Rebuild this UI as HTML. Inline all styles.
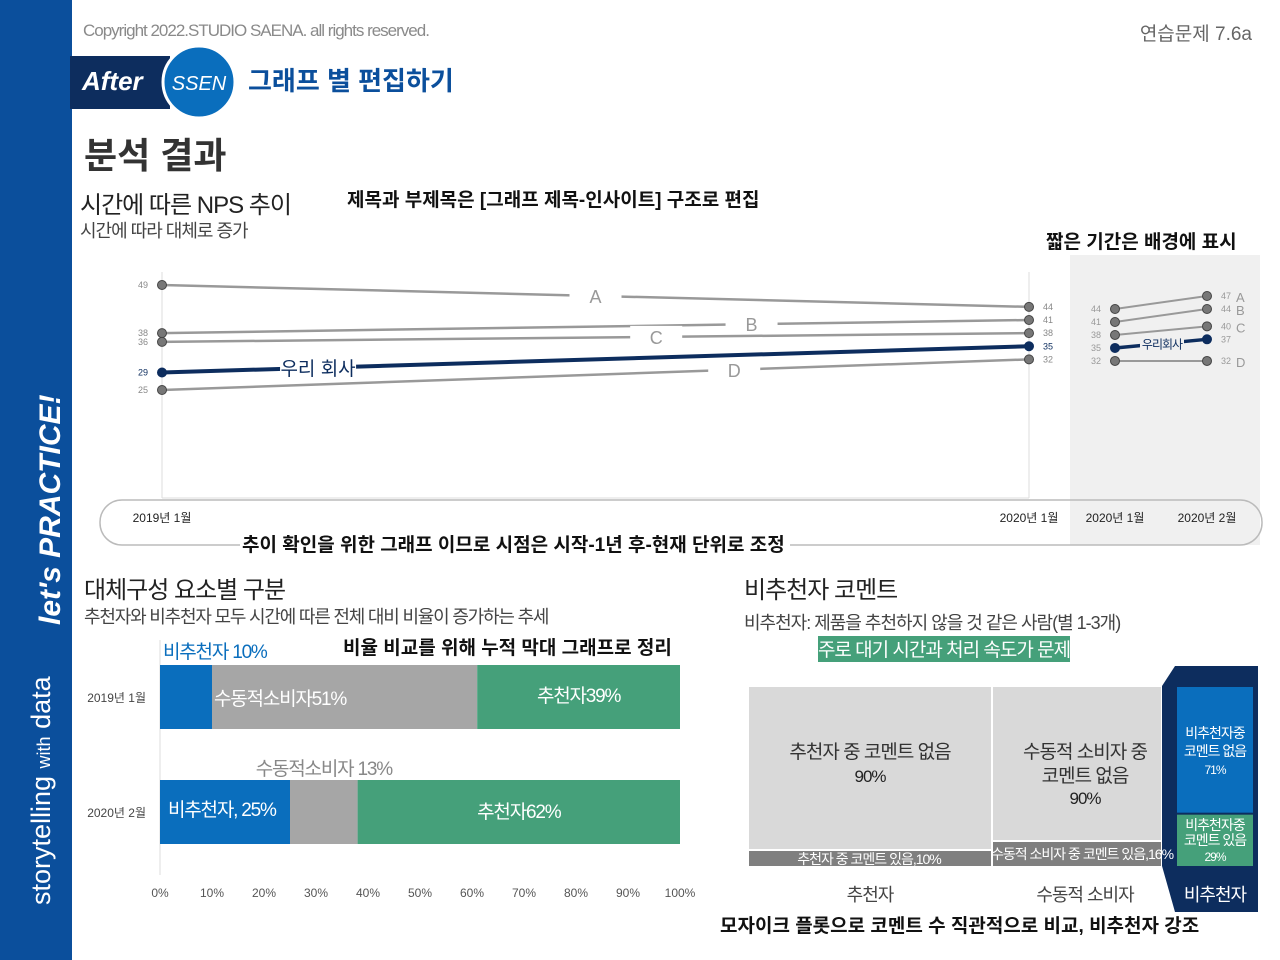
<!DOCTYPE html>
<html><head><meta charset="utf-8"><style>
html,body{margin:0;padding:0;background:#fff}
svg{display:block;font-family:"Liberation Sans","Noto Sans CJK KR",sans-serif}
</style></head><body>
<svg id="s" width="1280" height="960" viewBox="0 0 1280 960" xmlns="http://www.w3.org/2000/svg">
<rect width="1280" height="960" fill="#fff"/>
<rect x="0" y="0" width="72" height="960" fill="#0b4f9c"/>
<text transform="translate(50,905) rotate(-90)" fill="#fff" font-size="27">storytelling <tspan font-size="18">with</tspan> data</text>
<text transform="translate(60,625) rotate(-90)" fill="#fff" font-size="30" font-style="italic" font-weight="bold">let's PRACTICE!</text>
<text x="83" y="36" font-size="17" fill="#8a8a8a" letter-spacing="-1">Copyright 2022.STUDIO SAENA. all rights reserved.</text>
<text x="1252" y="40" font-size="19" fill="#666" text-anchor="end">연습문제 7.6a</text>
<rect x="70" y="56" width="100" height="53" fill="#0d2d5e"/>
<text x="82" y="90" fill="#fff" font-size="26" font-style="italic" font-weight="bold">After</text>
<circle cx="199" cy="82" r="36" fill="#0a6ebd" stroke="#fff" stroke-width="3"/>
<text x="199" y="90" fill="#fff" font-size="20" text-anchor="middle" font-style="italic">SSEN</text>
<text x="248" y="90" fill="#0b4f9c" font-size="26" font-weight="bold">그래프 별 편집하기</text>
<text x="84" y="168" font-size="36" font-weight="bold" fill="#333">분석 결과</text>
<text x="80" y="213" font-size="24" fill="#222" letter-spacing="-1">시간에 따른 NPS 추이</text>
<text x="80" y="237" font-size="18" fill="#444" letter-spacing="-1">시간에 따라 대체로 증가</text>
<text x="347" y="206" font-size="19" font-weight="bold" fill="#111">제목과 부제목은 [그래프 제목-인사이트] 구조로 편집</text>
<text x="1046" y="248" font-size="19" font-weight="bold" fill="#111">짧은 기간은 배경에 표시</text>
<rect x="1070" y="255" width="190" height="290" fill="#f0f0f0"/>
<rect x="100" y="500" width="1162" height="45" rx="22" fill="none" stroke="#bbb" stroke-width="1.5"/>
<line x1="162" y1="272" x2="162" y2="498" stroke="#ddd"/>
<line x1="1029" y1="272" x2="1029" y2="498" stroke="#ddd"/>
<line x1="162" y1="498" x2="1029" y2="498" stroke="#ddd"/>
<rect x="240" y="530" width="550" height="26" fill="#fff"/>
<text x="242" y="551" font-size="19" font-weight="bold" fill="#111">추이 확인을 위한 그래프 이므로 시점은 시작-1년 후-현재 단위로 조정</text>
<g id="slope"></g>
<text x="84" y="598" font-size="24" fill="#222" letter-spacing="-1">대체구성 요소별 구분</text>
<text x="84" y="623" font-size="18" fill="#444" letter-spacing="-1.2">추천자와 비추천자 모두 시간에 따른 전체 대비 비율이 증가하는 추세</text>
<text x="343" y="654" font-size="19" font-weight="bold" fill="#111">비율 비교를 위해 누적 막대 그래프로 정리</text>
<line x1="160" y1="640" x2="160" y2="875" stroke="#ddd"/>
<g id="stack"></g>
<text x="744" y="598" font-size="24" fill="#222" letter-spacing="-1">비추천자 코멘트</text>
<text x="744" y="629" font-size="18" fill="#444" letter-spacing="-1">비추천자: 제품을 추천하지 않을 것 같은 사람(별 1-3개)</text>
<rect x="818" y="636" width="252" height="26" fill="#45a07a"/>
<text x="944" y="656" font-size="19" fill="#fff" text-anchor="middle" letter-spacing="-1">주로 대기 시간과 처리 속도가 문제</text>
<polygon points="1162,686 1175,666 1258,666 1258,912 1175,912 1162,866" fill="#0d2d5e"/>
<g id="mosaic"></g>
<text x="720" y="932" font-size="19" font-weight="bold" fill="#111">모자이크 플롯으로 코멘트 수 직관적으로 비교, 비추천자 강조</text>
</svg>
<script>
var NS="http://www.w3.org/2000/svg";
function mk(p,t,a,txt){var e=document.createElementNS(NS,t);for(var k in a)e.setAttribute(k,a[k]);if(txt!=null)e.textContent=txt;p.appendChild(e);return e;}
// ---- slope chart data ----
var slopeSeries=["A","B","C","D","우리 회사"];
var slopeStart=[49,38,36,25,29];
var slopeEnd=[44,41,38,32,35];
var shortSeries=["A","B","C","우리회사","D"];
var shortStart=[44,41,38,35,32];
var shortEnd=[47,44,40,37,32];
var slopeDates=["2019년 1월","2020년 1월"];
var shortDates=["2020년 1월","2020년 2월"];
</script>
<script>
(function(){
var g=document.getElementById('slope');
function yM(v){return 285+(49-v)*4.375;}
function xM(i){return i===0?162:1029;}
function yS(v){return 309+(44-v)*4.33;}
function xS(i){return i===0?1115:1207;}
var labelPos=[0.5,0.68,0.57,0.66,0.18];
for(var i=0;i<slopeSeries.length;i++){
  var our=slopeSeries[i].indexOf("우리")>=0;
  var col=our?"#0d2d5e":"#999",sw=our?4:2.5;
  var x1=xM(0),x2=xM(1),y1=yM(slopeStart[i]),y2=yM(slopeEnd[i]);
  var l=mk(g,'line',{x1:x1,y1:y1,x2:x2,y2:y2,stroke:col,'stroke-width':sw});
  
  
  var t=labelPos[i],lx=x1+(x2-x1)*t,ly=y1+(y2-y1)*t;
  mk(g,'rect',{x:lx-(our?38:26),y:ly-11,width:our?76:52,height:22,fill:"#fff"});
  var tx=mk(g,'text',{x:lx,y:ly+7,'text-anchor':'middle','font-size':our?19:18,fill:our?"#0d2d5e":"#999"},slopeSeries[i]);
  
  
  [[x1,y1,slopeStart[i],-1],[x2,y2,slopeEnd[i],1]].forEach(function(p){
    var c=mk(g,'circle',{cx:p[0],cy:p[1],r:4.5,fill:our?"#0d2d5e":"#777",stroke:our?"#0d2d5e":"#444"});
    
    
    mk(g,'text',{x:p[0]+p[3]*14,y:p[1]+3,'text-anchor':p[3]<0?'end':'start','font-size':9,fill:our?"#0d2d5e":"#888"},p[2]);
  });
}
for(var j=0;j<shortSeries.length;j++){
  var o=shortSeries[j].indexOf("우리")>=0;
  var c2=o?"#0d2d5e":"#999";
  var a1=xS(0),a2=xS(1),b1=yS(shortStart[j]),b2=yS(shortEnd[j]);
  var ln=mk(g,'line',{x1:a1,y1:b1,x2:a2,y2:b2,stroke:c2,'stroke-width':o?3.5:2});
  
  
  if(o){mk(g,'rect',{x:1140,y:(b1+b2)/2-7,width:44,height:14,fill:"#f0f0f0"});
    mk(g,'text',{x:1162,y:(b1+b2)/2+5,'text-anchor':'middle','font-size':12,fill:"#0d2d5e",'letter-spacing':'-1'},shortSeries[j]);}
  else mk(g,'text',{x:1236,y:b2+6,'font-size':13,fill:"#999"},shortSeries[j]);
  [[a1,b1,shortStart[j],-1],[a2,b2,shortEnd[j],1]].forEach(function(p){
    var c=mk(g,'circle',{cx:p[0],cy:p[1],r:4.5,fill:o?"#0d2d5e":"#777",stroke:o?"#0d2d5e":"#444"});
    
    
    mk(g,'text',{x:p[0]+p[3]*14,y:p[1]+3,'text-anchor':p[3]<0?'end':'start','font-size':9,fill:"#999"},p[2]);
  });
}
slopeDates.forEach(function(d,i){var t=mk(g,'text',{x:xM(i),y:522,'text-anchor':'middle','font-size':12,fill:"#222"},d);
  
  });
shortDates.forEach(function(d,i){var t=mk(g,'text',{x:xS(i),y:522,'text-anchor':'middle','font-size':12,fill:"#222"},d);
  
  });
})();
</script>
<script>
var stackCats=["2019년 1월","2020년 2월"];
var stackNon=[10,25];
var stackPassive=[51,13];
var stackPro=[39,62];
var stackTicks=["0%","10%","20%","30%","40%","50%","60%","70%","80%","90%","100%"];
</script>
<script>
(function(){
var g=document.getElementById('stack');
function x(v){return 160+v*5.2;}
var ys=[665,780],h=64;
for(var i=0;i<stackCats.length;i++){
  var y=ys[i];
  var segs=[[stackNon[i],"#0a6ebd"],[stackPassive[i],"#a6a6a6"],[stackPro[i],"#45a07a"]];
  var acc=0;
  segs.forEach(function(s,k){
    var r=mk(g,'rect',{x:x(acc),y:y,width:x(acc+s[0])-x(acc),height:h,fill:s[1]});
    
    
    acc+=s[0];
  });
  var t=mk(g,'text',{x:146,y:y+h/2+5,'text-anchor':'end','font-size':12,fill:"#444"},stackCats[i]);
  
  
}
var L=[["비추천자 "+stackNon[0]+"%",x(0)+3,ys[0]-7,"#0a6ebd","start"],
["수동적소비자"+stackPassive[0]+"%",x(stackNon[0])+2,ys[0]+40,"#fff","start"],
["추천자"+stackPro[0]+"%",x(stackNon[0]+stackPassive[0]+stackPro[0]/2),ys[0]+37,"#fff","middle"],
["비추천자, "+stackNon[1]+"%",x(0)+8,ys[1]+36,"#fff","start"],
["수동적소비자 "+stackPassive[1]+"%",x(stackNon[1]+stackPassive[1]/2),ys[1]-5,"#888","middle"],
["추천자"+stackPro[1]+"%",x(stackNon[1]+stackPassive[1]+stackPro[1]/2),ys[1]+38,"#fff","middle"]];
L.forEach(function(l){var t=mk(g,'text',{x:l[1],y:l[2],fill:l[3],'text-anchor':l[4],'font-size':19,'letter-spacing':'-1.2'},l[0]);
  
  });
stackTicks.forEach(function(s,i){var t=mk(g,'text',{x:x(i*10),y:897,'text-anchor':'middle','font-size':12,fill:"#555"},s);
  
  });
})();
</script>
<script>
var mosaicCats=["추천자","수동적 소비자","비추천자"];
var mosaicWidths=[242,168,76];
var mosaicNoComment=[90,90,71];
var mosaicComment=[10,16,29];
</script>
<script>
(function(){
var g=document.getElementById('mosaic');
var xs=[749,993,1177],y0=687,y1=866;
var fillsA=["#d9d9d9","#d9d9d9","#0a6ebd"],fillsB=["#7f7f7f","#7f7f7f","#45a07a"];
for(var i=0;i<3;i++){
  var w=mosaicWidths[i],tot=mosaicNoComment[i]+mosaicComment[i];
  var h1=(i==2)?((y1-y0-2)*mosaicNoComment[i]/tot):(y1-y0-2-mosaicComment[i]*1.5);
  var r=mk(g,'rect',{x:xs[i],y:y0,width:w,height:h1,fill:fillsA[i]});
  
  
  var r2=mk(g,'rect',{x:xs[i],y:y0+h1+2,width:w,height:y1-(y0+h1+2),fill:fillsB[i]});
  
  
}
function T(s,x,y,fs,c,n){var t=mk(g,'text',{x:x,y:y,'text-anchor':'middle','font-size':fs,fill:c,'letter-spacing':'-1'},s);
  
  }
T("추천자 중 코멘트 없음",870,758,19,"#333");T(mosaicNoComment[0]+"%",870,782,17,"#222");
T("수동적 소비자 중",1085,758,19,"#333");T("코멘트 없음",1085,782,19,"#333");T(mosaicNoComment[1]+"%",1085,804,17,"#222");
T("추천자 중 코멘트 있음,"+mosaicComment[0]+"%",869,864,14,"#fff");
T("수동적 소비자 중 코멘트 있음,"+mosaicComment[1]+"%",1082,859,14,"#fff");
T("비추천자중",1215,738,14,"#fff");T("코멘트 없음",1215,756,14,"#fff");T(mosaicNoComment[2]+"%",1215,774,12,"#fff");
T("비추천자중",1215,830,14,"#fff");T("코멘트 있음",1215,845,14,"#fff");T(mosaicComment[2]+"%",1215,861,12,"#fff");
T(mosaicCats[0],870,901,18,"#444","category-label");T(mosaicCats[1],1085,901,18,"#444","category-label");T(mosaicCats[2],1215,901,18,"#fff","category-label");
})();
</script>
</body></html>
